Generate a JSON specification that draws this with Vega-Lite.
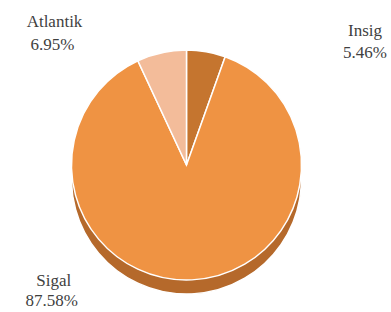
{
  "$schema": "https://vega.github.io/schema/vega-lite/v6.json",
  "width": 391,
  "height": 312,
  "autosize": {"type": "fit", "contains": "padding"},
  "padding": {"left": 0, "right": 12, "top": 18, "bottom": 0},
  "background": "white",
  "data": {"values": [
    {"name": "Insig", "share": 0.0546},
    {"name": "Sigal", "share": 0.8758},
    {"name": "Atlantik", "share": 0.0695}
  ]},
  "layer": [
    {
      "mark": {"type": "arc", "radius": 115, "yOffset": 14, "stroke": "white", "strokeWidth": 1.5},
      "encoding": {
        "theta": {"field": "share", "type": "quantitative", "stack": true, "scale": {"range": [-0.4367, 5.8465]}},
        "color": {"field": "name", "type": "nominal",
          "scale": {"domain": ["Insig", "Sigal", "Atlantik"], "range": ["#8C5020", "#B5692B", "#6B4A3A"]}, "legend": null}
      }
    },
    {
      "mark": {"type": "arc", "radius": 115, "stroke": "white", "strokeWidth": 1.5},
      "encoding": {
        "theta": {"field": "share", "type": "quantitative", "stack": true},
        "color": {"field": "name", "type": "nominal",
          "scale": {"domain": ["Insig", "Sigal", "Atlantik"], "range": ["#C5752F", "#EF9343", "#F3BC9A"]}, "legend": null}
      }
    },
    {
      "transform": [{"filter": "datum.name === 'Insig'"}],
      "layer": [
        {"mark": {"type": "text", "radius": 120, "dx": 210, "dy": -18, "font": "Liberation Serif", "fontSize": 17, "color": "#3f3f3f"},
         "encoding": {"theta": {"field": "share", "type": "quantitative", "stack": true}, "text": {"field": "name"}}},
        {"mark": {"type": "text", "radius": 120, "dx": 210, "dy": 4, "font": "Liberation Serif", "fontSize": 17, "color": "#3f3f3f"},
         "encoding": {"theta": {"field": "share", "type": "quantitative", "stack": true}, "text": {"field": "share", "type": "quantitative", "format": ".2%"}}}
      ]
    },
    {
      "transform": [{"filter": "datum.name === 'Atlantik'"}],
      "layer": [
        {"mark": {"type": "text", "radius": 120, "dx": -106, "dy": -26, "font": "Liberation Serif", "fontSize": 17, "color": "#3f3f3f"},
         "encoding": {"theta": {"field": "share", "type": "quantitative", "stack": true}, "text": {"field": "name"}}},
        {"mark": {"type": "text", "radius": 120, "dx": -108, "dy": -3, "font": "Liberation Serif", "fontSize": 17, "color": "#3f3f3f"},
         "encoding": {"theta": {"field": "share", "type": "quantitative", "stack": true}, "text": {"field": "share", "type": "quantitative", "format": ".2%"}}}
      ]
    },
    {
      "transform": [{"filter": "datum.name === 'Sigal'"}],
      "layer": [
        {"mark": {"type": "text", "radius": 120, "dx": -221, "dy": 35, "font": "Liberation Serif", "fontSize": 17, "color": "#3f3f3f"},
         "encoding": {"theta": {"field": "share", "type": "quantitative", "stack": true}, "text": {"field": "name"}}},
        {"mark": {"type": "text", "radius": 120, "dx": -223, "dy": 55, "font": "Liberation Serif", "fontSize": 17, "color": "#3f3f3f"},
         "encoding": {"theta": {"field": "share", "type": "quantitative", "stack": true}, "text": {"field": "share", "type": "quantitative", "format": ".2%"}}}
      ]
    }
  ],
  "resolve": {"scale": {"color": "independent"}}
}
